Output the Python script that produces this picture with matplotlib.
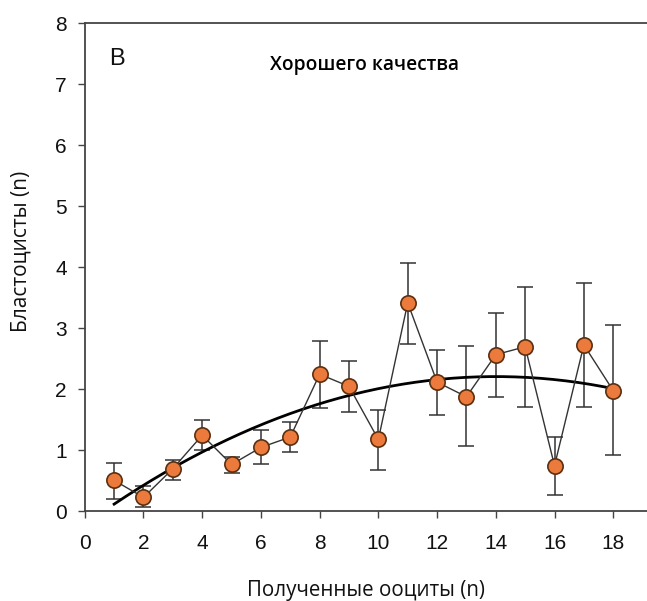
import numpy as np
import matplotlib
matplotlib.use("Agg")
import matplotlib.pyplot as plt

# oocytes retrieved vs good-quality blastocysts (mean +/- error)
oocytes = [1, 2, 3, 4, 5, 6, 7, 8, 9, 10, 11, 12, 13, 14, 15, 16, 17, 18]
blasto = [0.51, 0.23, 0.70, 1.25, 0.77, 1.05, 1.22, 2.25, 2.05, 1.18,
          3.42, 2.12, 1.88, 2.57, 2.70, 0.75, 2.73, 1.98]
err_lo = [0.31, 0.16, 0.18, 0.25, 0.14, 0.27, 0.24, 0.55, 0.42, 0.50,
          0.68, 0.54, 0.81, 0.69, 0.98, 0.48, 1.01, 1.06]
err_hi = [0.29, 0.18, 0.15, 0.25, 0.13, 0.28, 0.25, 0.55, 0.41, 0.49,
          0.65, 0.53, 0.84, 0.69, 0.98, 0.47, 1.02, 1.07]

# quadratic trend (c0 + c1*x + c2*x^2)
trend_coef = [-0.214, 0.3464, -0.01237]
trend_x = [1, 18]

x_ticks = [0, 2, 4, 6, 8, 10, 12, 14, 16, 18]
y_ticks = [0, 1, 2, 3, 4, 5, 6, 7, 8]

fig = plt.figure(figsize=(6.47, 6.01), dpi=100)
ax = fig.add_axes([0.131, 0.149, 0.869, 0.812])

xs = np.linspace(trend_x[0], trend_x[1], 200)
ys = trend_coef[0] + trend_coef[1] * xs + trend_coef[2] * xs ** 2
ax.plot(xs, ys, color='black', lw=2.0, zorder=2)

ax.errorbar(oocytes, blasto, yerr=[err_lo, err_hi], fmt='none',
            ecolor='#333333', elinewidth=1.1, capsize=5.8, capthick=1.1, zorder=1)
ax.plot(oocytes, blasto, color='#333333', lw=1.0, zorder=3)
ax.plot(oocytes, blasto, 'o', ms=11, mfc='#EC7A3C', mec='#5a3010',
        mew=1.2, zorder=4)

ax.set_xlim(0, 19.15)
ax.set_ylim(0, 8)
ax.set_xticks(x_ticks)
ax.set_yticks(y_ticks)
ax.tick_params(direction='out', length=5, width=1, color='#444444',
               labelsize=15, labelcolor='#111111')
ax.tick_params(axis='x', pad=11)
ax.tick_params(axis='y', pad=8)
for lab in ax.get_xticklabels() + ax.get_yticklabels():
    lab.set_fontfamily('Liberation Sans')

ax.spines['right'].set_visible(False)
for s in ['left', 'bottom', 'top']:
    ax.spines[s].set_color('#444444')
    ax.spines[s].set_linewidth(1.3)

ax.text(0.044, 0.928, 'B', transform=ax.transAxes, fontsize=17,
        family='Liberation Sans', color='#111111', va='center')
fig.text(0.564, 0.892, 'Хорошего качества', fontsize=13.8, family='Open Sans',
         fontweight='semibold', ha='center', va='center')

fig.text(0.566, 0.009, 'Полученные ооциты (n)', fontsize=14.8, family='Open Sans',
         ha='center', va='baseline', color='#111111')
fig.text(0.032, 0.581, 'Бластоцисты (n)', fontsize=15, family='Open Sans',
         ha='center', va='center', rotation=90, color='#111111')

fig.savefig('out.png', dpi=100)
